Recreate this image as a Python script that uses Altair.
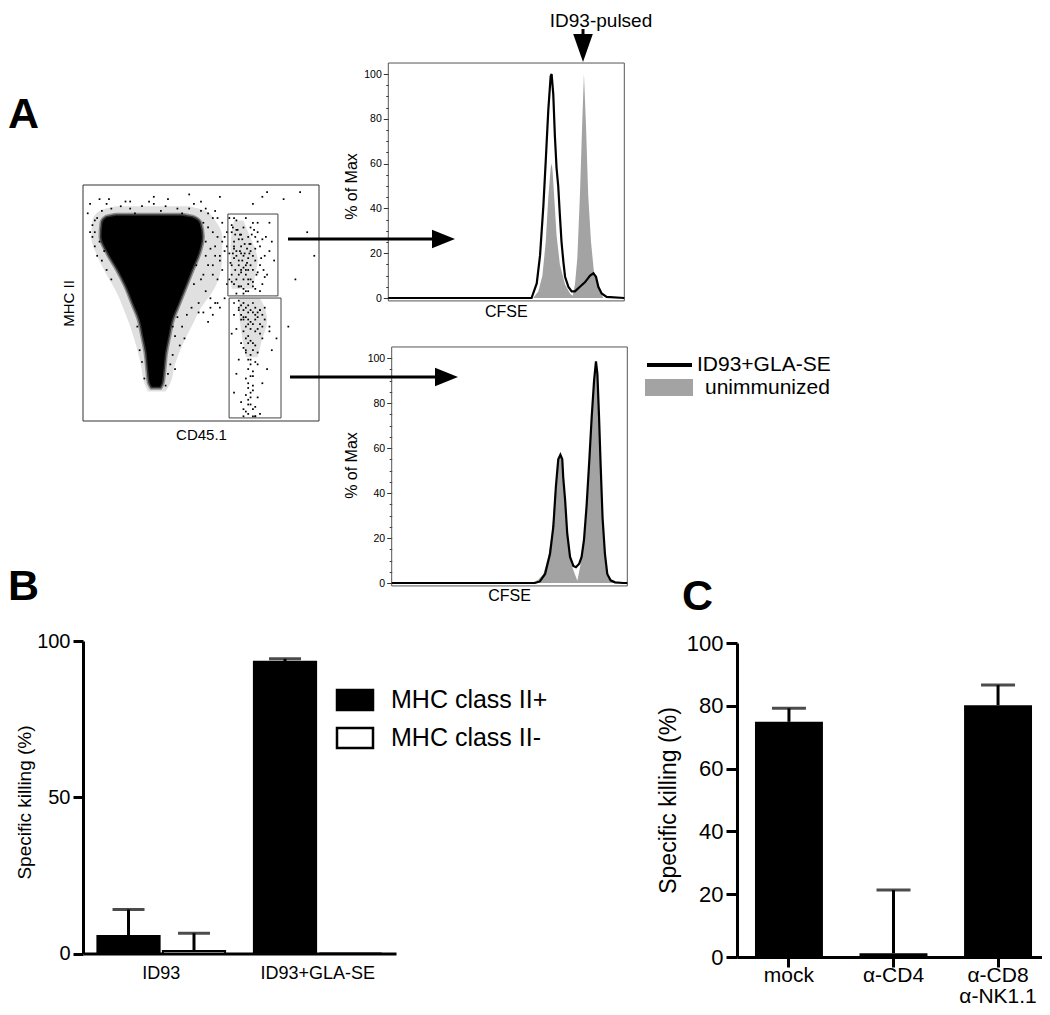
import altair as alt
import pandas as pd

FONT = "Liberation Sans"
W, H = 1034, 999

# ---------------- Panel A : dot plot (CD45.1 vs MHC II) ----------------
# core of the main population (MHC II level, left / right CD45.1 edge)
dense_mhc   = [13.9, 16.0, 21.6, 28.7, 35.8, 42.8, 49.9, 56.9, 64.0, 71.1, 78.1, 84.0, 86.6, 87.6]
dense_left  = [28.8, 27.7, 27.0, 26.3, 24.9, 23.4, 20.6, 17.8, 14.2, 10.0, 7.2, 7.6, 9.5, 14.0]
dense_right = [33.0, 34.0, 34.7, 35.4, 36.8, 38.3, 41.1, 43.9, 46.7, 49.6, 51.0, 50.0, 47.0, 42.0]
# sparser fringe of events around it
halo_mhc   = [12.5, 16, 24, 32, 40, 48, 55, 62, 70, 78, 85, 89, 91]
halo_left  = [27.5, 26, 24.5, 22.5, 20, 17, 14, 10, 6, 3.5, 4, 7, 14]
halo_right = [35, 37, 39, 42, 46, 50, 55, 58, 59, 59, 56, 52, 45]
# denser cores of the two gated CD45.1+ populations
core_mhc   = [56, 62, 68, 74, 80, 85, 27, 35, 42, 48, 52]
core_left  = [63, 62.5, 62.5, 62.5, 63, 64, 69, 67.5, 66.5, 66, 66.5]
core_right = [72, 73, 74, 72.5, 70, 68, 74, 76, 78, 77, 75]
core_id    = ["up", "up", "up", "up", "up", "up", "low", "low", "low", "low", "low"]

dot_cd45 = [63, 64, 65, 66, 67, 68, 69, 66, 64, 67, 70, 72, 71, 73, 75, 70, 68, 72, 65, 74, 77, 78, 76, 63, 62, 69, 73, 66, 71, 67, 64, 70, 68, 75, 80, 79, 62, 65,
            64, 66, 68, 70, 72, 74, 71, 69, 73, 75, 67, 70, 72, 76, 68, 71, 73, 70, 69, 72, 71, 70, 73, 69, 75, 66, 77, 79, 63, 65, 78, 74, 67, 76, 80, 64,
            72, 76, 78, 85, 92, 95, 90, 87, 98, 58, 50, 45, 30, 20, 10, 5,
            8, 12, 16, 20, 25, 30, 35, 40, 45, 50, 53, 55, 6, 4, 22, 33, 42,
            51, 53, 55, 57, 59, 52, 54, 56, 58, 60, 53, 55, 57, 59, 61, 50, 52, 54, 56, 58, 49, 51, 53, 55, 60, 61, 59, 57,
            4, 5, 6, 8, 10, 12, 7, 3, 9,
            40, 42, 39, 41, 38, 37, 36, 35, 39, 43, 44, 46, 38, 25, 22, 20, 23, 24, 25, 26,
            62, 63, 65, 67, 69, 71, 73, 74, 76, 79, 81, 63, 66, 68, 70, 72, 75, 77, 64, 67, 69, 71, 74,
            64, 66, 68, 70, 73, 75, 77, 79, 82, 65, 67, 69, 71, 72, 74, 70, 71, 69, 72, 70, 68, 73,
            48, 52, 56, 60, 47, 51, 55, 58, 61, 49, 54, 57, 2, 3, 5, 7, 11, 18, 28, 36, 47, 52, 56,
            63.5, 64.5, 65.5, 66.5, 67.5, 68.5, 69.5, 70.5, 64, 65, 66, 67, 68, 69, 70, 71, 72, 73, 74, 65,
            66, 68, 70, 72, 63, 62.5, 63.5, 64.5, 66.5, 67.5, 68.5, 69.5, 70.5, 71.5, 72.5, 73.5, 75.5, 76.5, 77.5, 64,
            66, 67, 68, 69, 70, 71, 72, 73, 74, 75, 76, 67, 68, 69, 70, 71, 72, 73, 74, 75,
            76, 68, 69, 70, 71, 72, 73, 74, 69, 70, 71, 72, 71, 70, 72, 71, 70, 72, 68, 73]
dot_mhc = [80, 76, 72, 68, 74, 70, 66, 62, 58, 57, 60, 64, 72, 68, 74, 78, 82, 84, 85, 80, 70, 62, 58, 66, 71, 55, 56, 77, 75, 64, 69, 69, 60, 66, 76, 84, 60, 54,
           50, 48, 47, 49, 46, 44, 42, 40, 38, 41, 43, 36, 33, 35, 31, 28, 25, 22, 18, 15, 12, 9, 6, 4, 3, 26, 48, 40, 37, 20, 22, 10, 8, 16, 30, 12,
           92, 95, 97, 94, 97, 80, 60, 40, 70, 95, 93, 96, 95, 93, 92, 80,
           89, 90, 91, 90, 91, 92, 91, 90, 90, 89, 88, 86, 86, 83, 88, 89, 88,
           84, 82, 80, 78, 76, 76, 73, 70, 68, 72, 66, 62, 60, 64, 58, 60, 55, 52, 50, 48, 50, 46, 42, 45, 52, 80, 84, 86,
           78, 74, 70, 68, 64, 60, 76, 80, 72,
           44, 40, 36, 32, 28, 24, 20, 15, 22, 35, 45, 48, 40, 45, 50, 55, 40, 30, 25, 18,
           86, 83, 81, 79, 86, 82, 78, 84, 77, 72, 68, 59, 57, 54, 55, 57, 55, 61, 74, 71, 64, 60, 63,
           45, 47, 44, 43, 45, 47, 43, 38, 35, 39, 33, 30, 26, 19, 24, 14, 7, 11, 2, 3, 5, 2,
           66, 70, 74, 78, 58, 62, 66, 70, 74, 46, 48, 50, 88, 92, 85, 94, 94, 93, 93, 94, 92, 90, 89,
           82, 79, 81, 79, 77, 75, 73, 71, 73, 70, 66, 63, 65, 62, 64, 66, 70, 73, 76, 60,
           57, 56, 58, 59, 62, 67, 71, 64, 72, 68, 71, 67, 75, 79, 81, 62, 69, 64, 78, 86,
           51, 49, 50, 48, 46, 47, 50, 48, 46, 47, 45, 45, 43, 44, 41, 39, 41, 43, 39, 37,
           40, 38, 35, 33, 34, 30, 32, 29, 29, 26, 24, 21, 19, 16, 13, 10, 7, 5, 2, 2]

gate_x1 = [61.4, 61.9]
gate_x2 = [82.6, 83.9]
gate_y1 = [53.0, 1.3]
gate_y2 = [87.7, 52.1]

box_x = [0, 100]
box_y = [0, 100]

# ---------------- Panel A : CFSE histograms ----------------
top_black_x = [0, 60.7, 62.9, 64.3, 65.7, 66.7, 67.8, 68.8, 69.2, 69.9, 70.6, 71.3, 72.0, 72.7, 73.4, 74.2, 74.9, 76.3, 77.7,
               79.1, 81.2, 83.3, 85.5, 86.9, 88.0, 89.0, 90.4, 92.5, 100]
top_black_y = [0, 0, 6.5, 19, 41, 61, 84, 99, 100, 91, 72, 58, 50, 37, 25, 16, 9.5, 5, 3,
               3, 5, 7, 10, 11, 9.5, 5, 2, 0.5, 0]
top_gray_x = [61.4, 63.6, 65.3, 66.7, 67.8, 68.8, 69.2, 69.6, 70.3, 71.3, 72.7, 74.9, 77.0, 78.1, 79.1, 80.1, 81.2,
              82.1, 82.9, 83.8, 84.7, 85.9, 87.1, 89.0, 91.1]
top_gray_y = [0, 3, 10, 25, 45, 58, 60, 57, 45, 28, 15, 6, 2, 1, 6, 18, 46, 76, 100, 76, 46, 25, 12, 5, 0]

bot_black_x = [0, 60.8, 62.9, 65.1, 67.2, 68.6, 69.7, 70.7, 71.6, 72.4, 72.8, 73.6, 74.5, 75.7, 77.1, 78.2, 79.6, 80.6,
               81.6, 82.7, 83.9, 84.9, 85.9, 86.7, 87.3, 88.0, 88.7, 89.5, 90.5, 91.5, 92.9, 94.8, 98.3, 100]
bot_black_y = [0, 0, 0.7, 4, 13, 25, 43, 55, 57, 55, 47, 37, 22, 11.6, 7.6, 7, 8.6, 11.6,
               19, 34, 55, 74, 90, 98.5, 93, 74, 52, 29, 13, 4, 1.2, 0.3, 0, 0]
bot_gray_x = [59.4, 62.2, 64.4, 66.5, 68.0, 69.3, 70.5, 71.6, 72.6, 73.6, 74.5, 75.7, 77.0, 78.8, 80.3, 81.6, 82.7,
              83.9, 84.9, 85.9, 86.7, 87.3, 88.0, 88.7, 89.5, 90.5, 91.5, 93.0, 95.0]
bot_gray_y = [0, 1.5, 4, 12, 22, 40, 54, 56, 53, 36, 22, 11, 6, 1, 9, 19, 34, 55, 74, 90, 98, 93, 74, 52, 29, 13, 4, 1, 0]

hist_frame_x = [0, 100]
hist_frame_y = [-1.3, 104.9]
hist_major = [0, 20, 40, 60, 80, 100]
hist_minor = [5, 10, 15, 25, 30, 35, 45, 50, 55, 65, 70, 75, 85, 90, 95]

# ---------------- Panel B ----------------
b_groups = ["ID93", "ID93", "ID93+GLA-SE", "ID93+GLA-SE"]
b_classes = ["MHC class II+", "MHC class II-", "MHC class II+", "MHC class II-"]
b_mean = [5.6, 0.8, 93.4, 0.0]
b_err = [8.5, 5.7, 0.9, 0.0]
b_ticks = [0, 50, 100]

# ---------------- Panel C ----------------
c_groups = ["mock", "α-CD4", "α-CD8|α-NK1.1"]
c_mean = [74.9, 1.2, 80.2]
c_err = [4.3, 20.1, 6.4]
c_ticks = [0, 20, 40, 60, 80, 100]


# =====================================================================
def lin(dom, rng):
    return alt.Scale(domain=dom, range=rng, nice=False, zero=False)


# ---- dot plot ----
sx_dot = lin([0, 100], [75, 311])
sy_dot = lin([0, 100], [413, 177])
ax_dot_y = alt.Axis(orient="left", offset=-75, domain=False, ticks=False, labels=False, grid=False,
                    title="MHC II", titleFontSize=15, titleX=-15, titleY=295, titleAngle=270,
                    titleBaseline="middle", titleAlign="center")
ax_dot_x = alt.Axis(orient="bottom", offset=413 - H, domain=False, ticks=False, labels=False, grid=False,
                    title="CD45.1", titleFontSize=15, titleX=193, titleY=13, titleBaseline="middle",
                    titleAlign="center")

df_dense = pd.DataFrame({"mhc": dense_mhc, "left": dense_left, "right": dense_right})
df_halo = pd.DataFrame({"mhc": halo_mhc, "left": halo_left, "right": halo_right})
df_core = pd.DataFrame({"mhc": core_mhc, "left": core_left, "right": core_right, "pop": core_id})
df_dots = pd.DataFrame({"cd45": dot_cd45, "mhc": dot_mhc})
df_gates = pd.DataFrame({"x1": gate_x1, "x2": gate_x2, "y1": gate_y1, "y2": gate_y2})
df_box = pd.DataFrame({"x1": [box_x[0]], "x2": [box_x[1]], "y1": [box_y[0]], "y2": [box_y[1]]})


def dot_xy(xf, yf):
    return dict(x=alt.X(xf, scale=sx_dot, axis=ax_dot_x), y=alt.Y(yf, scale=sy_dot, axis=ax_dot_y))


halo = alt.Chart(df_halo).mark_area(orient="horizontal", color="black", opacity=0.12,
                                    interpolate="monotone").encode(x2="right:Q", **dot_xy("left:Q", "mhc:Q"))
dense = alt.Chart(df_dense).mark_area(orient="horizontal", color="black", interpolate="monotone",
                                      stroke="#555", strokeWidth=3, strokeOpacity=0.6).encode(
    x2="right:Q", **dot_xy("left:Q", "mhc:Q"))
cores = alt.Chart(df_core).mark_area(orient="horizontal", color="black", opacity=0.12,
                                     interpolate="monotone").encode(
    x2="right:Q", detail="pop:N", **dot_xy("left:Q", "mhc:Q"))
dots = alt.Chart(df_dots).mark_square(size=3, color="black", opacity=1).encode(**dot_xy("cd45:Q", "mhc:Q"))
gates = alt.Chart(df_gates).mark_rect(filled=False, color="#444", strokeWidth=1).encode(
    x2="x2:Q", y2="y2:Q", **dot_xy("x1:Q", "y1:Q"))
box = alt.Chart(df_box).mark_rect(filled=False, color="#333", strokeWidth=1).encode(
    x2="x2:Q", y2="y2:Q", **dot_xy("x1:Q", "y1:Q"))
dot_panel = alt.layer(halo, dense, cores, dots, gates, box)


# ---- histograms ----
def hist_panel(bx, by, gx, gy, xr, yr, frame_bottom, title_y, cfse_dy):
    sx = lin([0, 100], xr)
    sy = lin([0, 100], yr)
    yaxis = alt.Axis(
        orient="left", offset=-xr[0], values=hist_major, domain=False, grid=False,
        tickSize=5, tickColor="#333", tickWidth=1, labelFontSize=10.5, labelPadding=2,
        title="% of Max", titleFontSize=16, titleX=343 - xr[0], titleY=title_y,
        titleAngle=270, titleBaseline="middle", titleAlign="center")
    minor_axis = alt.Axis(
        orient="left", offset=-xr[0], values=hist_minor, domain=False, grid=False, labels=False,
        tickSize=2.5, tickColor="#333", tickWidth=1, title=None)
    xaxis = alt.Axis(
        orient="bottom", offset=frame_bottom - H, domain=False, ticks=False, labels=False, grid=False,
        title="CFSE", titleFontSize=16, titleX=(xr[0] + xr[1]) / 2 - 0.5, titleY=cfse_dy,
        titleBaseline="middle", titleAlign="center")
    dg = pd.DataFrame({"cfse": gx, "pct": gy})
    db = pd.DataFrame({"cfse": bx, "pct": by})
    dfr = pd.DataFrame({"x1": [hist_frame_x[0]], "x2": [hist_frame_x[1]],
                        "y1": [hist_frame_y[0]], "y2": [hist_frame_y[1]]})
    dmin = pd.DataFrame({"v": hist_minor})

    def xy(xf, yf):
        return dict(x=alt.X(xf, scale=sx, axis=xaxis), y=alt.Y(yf, scale=sy, axis=yaxis))

    gray = alt.Chart(dg).mark_area(color="#a3a3a3", opacity=1).encode(**xy("cfse:Q", "pct:Q"))
    frame = alt.Chart(dfr).mark_rect(filled=False, color="#555", strokeWidth=1).encode(
        x2="x2:Q", y2="y2:Q", **xy("x1:Q", "y1:Q"))
    black = alt.Chart(db).mark_line(color="black", strokeWidth=2.2).encode(**xy("cfse:Q", "pct:Q"))
    minor = alt.Chart(dmin).mark_tick(opacity=0).encode(
        y=alt.Y("v:Q", scale=sy, axis=minor_axis),
    )
    return alt.layer(alt.layer(gray, frame, black), minor).resolve_scale(y="independent")


hist_top = hist_panel(top_black_x, top_black_y, top_gray_x, top_gray_y,
                      [380.3, 616.3], [290, 66], 293, 178, 10)
hist_bot = hist_panel(bot_black_x, bot_black_y, bot_gray_x, bot_gray_y,
                      [383.7, 619.3], [575, 350], 578, 457, 9)

# ---- panel B ----
df_b = pd.DataFrame({"group": b_groups, "cls": b_classes, "mean": b_mean, "err": b_err})
df_b["upper"] = df_b["mean"] + df_b["err"]
df_b_err = df_b[df_b["err"] > 0]

sx_b = alt.Scale(domain=["ID93", "ID93+GLA-SE"], range=[75, 388], paddingInner=0, paddingOuter=0)
sxo_b = alt.Scale(domain=["MHC class II+", "MHC class II-"], paddingInner=0.05, paddingOuter=0.22)
sy_b = lin([0, 100], [945.5, 633])
ax_b_x = alt.Axis(orient="bottom", offset=945.5 - H, ticks=False, tickSize=0, domainWidth=3, domainColor="black",
                  labelFontSize=18, labelPadding=11, labelAngle=0, title=None, grid=False)
ax_b_y = alt.Axis(orient="left", offset=-75, values=b_ticks, domainWidth=3, domainColor="black",
                  tickWidth=3, tickSize=10, tickColor="black", labelFontSize=20, labelPadding=3, grid=False,
                  title="Specific killing  (%)", titleFontSize=19, titleX=-59, titleY=794, titleAngle=270,
                  titleBaseline="middle", titleAlign="center")


def b_enc(yf):
    return dict(x=alt.X("group:N", scale=sx_b, sort=None, axis=ax_b_x),
                xOffset=alt.XOffset("cls:N", scale=sxo_b, sort=None),
                y=alt.Y(yf, scale=sy_b, axis=ax_b_y))


bars_b = alt.Chart(df_b).mark_bar(stroke="black", strokeWidth=2).encode(
    fill=alt.Fill("cls:N", scale=alt.Scale(domain=["MHC class II+", "MHC class II-"], range=["black", "white"]),
                  legend=alt.Legend(
                      orient="none", legendX=327.5, legendY=672.5, title=None,
                      symbolType="M-1,-0.56H1V0.56H-1Z", symbolSize=1296, symbolStrokeColor="black",
                      symbolStrokeWidth=2.5, labelFontSize=25, labelOffset=16.5, rowPadding=3,
                      labelLimit=400, padding=0, labelColor="black")),
    **b_enc("mean:Q"))
err_b = alt.Chart(df_b_err).mark_rule(color="black", strokeWidth=3).encode(y2="upper:Q", **b_enc("mean:Q"))
cap_b = alt.Chart(df_b_err).mark_tick(orient="horizontal", color="black", size=32, thickness=3).encode(
    **b_enc("upper:Q"))
panel_b = alt.layer(bars_b, err_b, cap_b)

# ---- panel C ----
df_c = pd.DataFrame({"group": c_groups, "mean": c_mean, "err": c_err})
df_c["upper"] = df_c["mean"] + df_c["err"]
sx_c = alt.Scale(domain=c_groups, range=[729, 1042], paddingInner=0.35, paddingOuter=0.172)
sy_c = lin([0, 100], [949, 635])
ax_c_x = alt.Axis(orient="bottom", offset=949 - H, domainWidth=3, domainColor="black", tickWidth=3, tickSize=10,
                  tickColor="black", labelFontSize=21, labelPadding=-3, labelAngle=0, labelLineHeight=21,
                  labelExpr="split(datum.label, '|')", title=None, grid=False)
ax_c_y = alt.Axis(orient="left", offset=-729, values=c_ticks, domainWidth=3, domainColor="black",
                  tickWidth=3, tickSize=11, tickColor="black", labelFontSize=22, labelPadding=3, grid=False,
                  title="Specific killing  (%)", titleFontSize=23, titleX=-69, titleY=792, titleAngle=270,
                  titleBaseline="middle", titleAlign="center")


def c_enc(yf):
    return dict(x=alt.X("group:N", scale=sx_c, sort=None, axis=ax_c_x),
                y=alt.Y(yf, scale=sy_c, axis=ax_c_y))


bars_c = alt.Chart(df_c).mark_bar(color="black").encode(**c_enc("mean:Q"))
err_c = alt.Chart(df_c).mark_rule(color="black", strokeWidth=3).encode(y2="upper:Q", **c_enc("mean:Q"))
cap_c = alt.Chart(df_c).mark_tick(orient="horizontal", color="black", size=34, thickness=3).encode(
    **c_enc("upper:Q"))
panel_c = alt.layer(bars_c, err_c, cap_c)

# ---- annotations (panel letters, arrows, legend of A) ----
one = pd.DataFrame({"k": [0]})


def label(text, x, y, size, weight="normal", align="left", baseline="alphabetic"):
    return alt.Chart(one).mark_text(text=text, fontSize=size, fontWeight=weight, align=align,
                                    baseline=baseline, color="black").encode(
        x=alt.value(x), y=alt.value(y))


def hrule(x1, x2, y, w=3, color="black"):
    return alt.Chart(one).mark_rule(color=color, strokeWidth=w).encode(
        x=alt.value(x1), x2=alt.value(x2), y=alt.value(y))


def vrule(x, y1, y2, w=3):
    return alt.Chart(one).mark_rule(color="black", strokeWidth=w).encode(
        x=alt.value(x), y=alt.value(y1), y2=alt.value(y2))


def head(x, y, path, size):
    return alt.Chart(one).mark_point(shape=path, size=size, filled=True, color="black", opacity=1,
                                     strokeWidth=0).encode(x=alt.value(x), y=alt.value(y))


RIGHT = "M-1,-0.8L1,0L-1,0.8Z"
DOWN = "M-0.7,-1L0.7,-1L0,1Z"

legend_rect = alt.Chart(one).mark_rect(color="#a3a3a3").encode(
    x=alt.value(637), x2=alt.value(685), y=alt.value(371), y2=alt.value(388))

annotations = alt.layer(
    label("A", 0, 120, 43, "bold"),
    label("B", 0, 592, 43, "bold"),
    label("C", 674, 602, 43, "bold"),
    label("ID93-pulsed", 593, 19, 19, align="center"),
    vrule(575, 21, 28),
    head(575, 40, DOWN, 784),
    hrule(280, 425, 231),
    head(435.5, 231, RIGHT, 529),
    hrule(282, 428, 369),
    head(438.5, 369, RIGHT, 529),
    hrule(639, 684, 357, w=4),
    legend_rect,
    label("ID93+GLA-SE", 689, 357, 21, baseline="middle"),
    label("unimmunized", 697, 380, 21, baseline="middle"),
)

chart = alt.layer(dot_panel, hist_top, hist_bot, panel_b, panel_c, annotations).resolve_scale(
    x="independent", y="independent", fill="independent", xOffset="independent"
).properties(
    width=W, height=H, autosize=alt.AutoSizeParams(type="none"), padding=0
).configure_view(stroke=None).configure_axis(
    labelFont=FONT, titleFont=FONT, labelColor="black", titleColor="black", titleFontWeight="normal"
).configure_text(font=FONT).configure_legend(labelFont=FONT)

chart.save("out.html", embed_options={"renderer": "svg", "actions": False})
